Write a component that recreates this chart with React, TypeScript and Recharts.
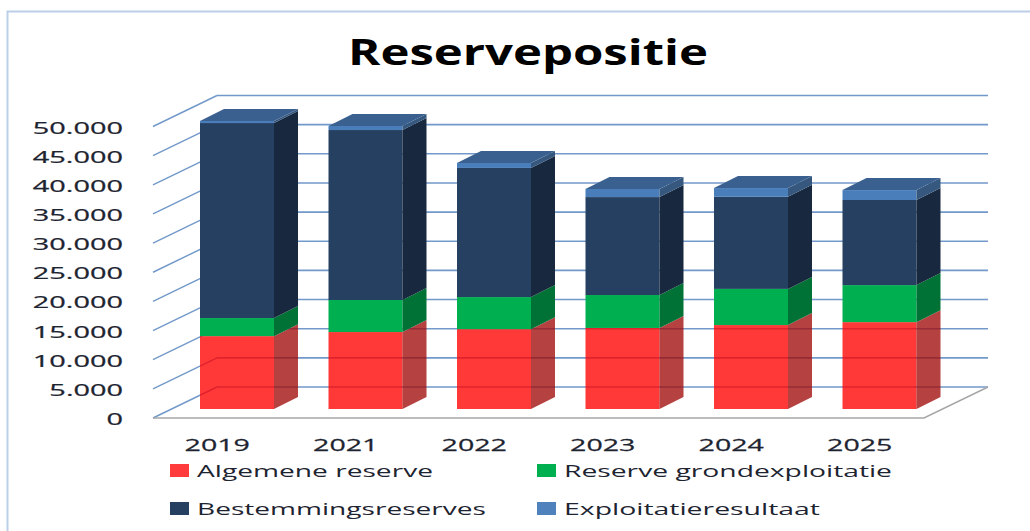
import { Bar, BarChart, CartesianGrid, Legend, XAxis, YAxis } from "recharts"

const years = ["2019", "2021", "2022", "2023", "2024", "2025"]
const algemeneReserve = [12500, 13200, 13700, 13900, 14400, 14900]
const grondexploitatie = [3100, 5500, 5500, 5650, 6200, 6350]
const bestemmingsreserves = [33450, 29150, 22150, 16800, 15800, 14600]
const exploitatieresultaat = [350, 700, 850, 1400, 1500, 1700]
const yTicks = [0, 5000, 10000, 15000, 20000, 25000, 30000, 35000, 40000, 45000, 50000]

const data = years.map((year, i) => ({
  year,
  algemeneReserve: algemeneReserve[i],
  grondexploitatie: grondexploitatie[i],
  bestemmingsreserves: bestemmingsreserves[i],
  exploitatieresultaat: exploitatieresultaat[i],
}))

const FONT = "'Open Sans', sans-serif"
const TEXT = "#1d2430"
const GRID = "#7299c9"

// bar depth, and how far the front plane and back wall sit from the bars
const DEPTH_X = 24
const DEPTH_Y = 12
const BACK_X = 44
const BACK_Y = 22
const FRONT_X = 20
const FRONT_Y = 9

function box3d(front: string, side: string, top?: string, opacity = 1) {
  return (props: any) => {
    const { x, y, width, height } = props
    const r = x + width
    return (
      <g fillOpacity={opacity}>
        <rect x={x} y={y} width={width} height={height} fill={front} />
        <polygon
          points={`${r},${y} ${r + DEPTH_X},${y - DEPTH_Y} ${r + DEPTH_X},${y + height - DEPTH_Y} ${r},${y + height}`}
          fill={side}
        />
        {top && (
          <polygon
            points={`${x},${y} ${x + DEPTH_X},${y - DEPTH_Y} ${r + DEPTH_X},${y - DEPTH_Y} ${r},${y}`}
            fill={top}
          />
        )}
      </g>
    )
  }
}

function gridLine(props: any) {
  const { x1, x2, y1, key, y, height } = props
  const isFloor = Math.abs(y1 - (y + height)) < 1
  return (
    <g key={key}>
      <line x1={x1 + BACK_X} x2={x2 + BACK_X} y1={y1 - BACK_Y} y2={y1 - BACK_Y} stroke={GRID} strokeWidth={1.6} />
      <line x1={x1 - FRONT_X} x2={x1 + BACK_X} y1={y1 + FRONT_Y} y2={y1 - BACK_Y} stroke={GRID} strokeWidth={1.4} />
      {isFloor && (
        <polyline
          points={`${x1 - FRONT_X},${y1 + FRONT_Y} ${x2 - FRONT_X},${y1 + FRONT_Y} ${x2 + BACK_X},${y1 - BACK_Y}`}
          fill="none"
          stroke="#a6a6a6"
          strokeWidth={1.4}
        />
      )}
    </g>
  )
}

function YTick({ y, payload }: any) {
  return (
    <text
      transform={`translate(123 ${y + 16}) scale(1.7 1)`}
      textAnchor="end"
      fontFamily={FONT}
      fontSize={17}
      fill={TEXT}
      stroke={TEXT}
      strokeWidth={0.25}
    >
      {payload.value === 0 ? "0" : payload.value.toLocaleString("nl-NL")}
    </text>
  )
}

function XTick({ x, y, payload }: any) {
  return (
    <text
      transform={`translate(${x - FRONT_X} ${y + 40}) scale(1.68 1)`}
      textAnchor="middle"
      fontFamily={FONT}
      fontSize={17}
      fill={TEXT}
      stroke={TEXT}
      strokeWidth={0.25}
    >
      {payload.value}
    </text>
  )
}

const legendSpots = [
  { x: 170, y: 464, width: 236 },
  { x: 537, y: 464, width: 328 },
  { x: 170, y: 502, width: 289 },
  { x: 537, y: 502, width: 256 },
]

function LegendBoxes({ payload }: any) {
  return (
    <svg width={1030} height={531}>
      {(payload || []).map((item: any, i: number) => {
        const spot = legendSpots[i]
        return (
          <g key={item.value}>
            <rect x={spot.x} y={spot.y} width={19} height={13} fill={item.color} />
            <text
              x={spot.x + 27}
              y={spot.y + 13}
              fontFamily={FONT}
              fontSize={17}
              fill={TEXT}
              textLength={spot.width}
              lengthAdjust="spacingAndGlyphs"
            >
              {item.value}
            </text>
          </g>
        )
      })}
    </svg>
  )
}

export default function App() {
  return (
    <div style={{ position: "absolute", left: 0, top: 0, width: 1030, height: 531, overflow: "hidden", background: "#fff" }}>
      <BarChart
        width={1030}
        height={531}
        data={data}
        margin={{ top: 117.5, right: 86, bottom: 92, left: 0 }}
      >
        <path d="M7.5 531V11.5H1030" fill="none" stroke="#bccfe8" strokeWidth={2} />
        <text
          x={528}
          y={65}
          textAnchor="middle"
          fontFamily={FONT}
          fontWeight={700}
          fontSize={36}
          fill="#000"
          textLength={360}
          lengthAdjust="spacingAndGlyphs"
        >
          Reservepositie
        </text>
        <CartesianGrid vertical={false} horizontal={gridLine} syncWithTicks />
        <XAxis dataKey="year" height={30} axisLine={false} tickLine={false} tickSize={0} tick={<XTick />} interval={0} />
        <YAxis
          width={173}
          domain={[0, 50000]}
          ticks={yTicks}
          axisLine={false}
          tickLine={false}
          tick={<YTick />}
          interval={0}
        />
        <Legend
          layout="horizontal"
          verticalAlign="middle"
          align="center"
          itemSorter={null}
          wrapperStyle={{ left: 0, top: 0, width: 1030, height: 531, pointerEvents: "none" }}
          content={<LegendBoxes />}
        />
        <Bar
          dataKey="algemeneReserve"
          name="Algemene reserve"
          stackId="a"
          barSize={74}
          fill="#ff3b3b"
          shape={box3d("#ff0000", "#a00b0b", undefined, 0.78)}
          isAnimationActive={false}
        />
        <Bar
          dataKey="grondexploitatie"
          name="Reserve grondexploitatie"
          stackId="a"
          barSize={74}
          fill="#00b050"
          shape={box3d("#00b050", "#007236")}
          isAnimationActive={false}
        />
        <Bar
          dataKey="bestemmingsreserves"
          name="Bestemmingsreserves"
          stackId="a"
          barSize={74}
          fill="#254061"
          shape={box3d("#254061", "#18283e")}
          isAnimationActive={false}
        />
        <Bar
          dataKey="exploitatieresultaat"
          name="Exploitatieresultaat"
          stackId="a"
          barSize={74}
          fill="#4f81bd"
          shape={box3d("#4a7ebb", "#36587f", "#3a6090")}
          isAnimationActive={false}
        />
      </BarChart>
    </div>
  )
}
